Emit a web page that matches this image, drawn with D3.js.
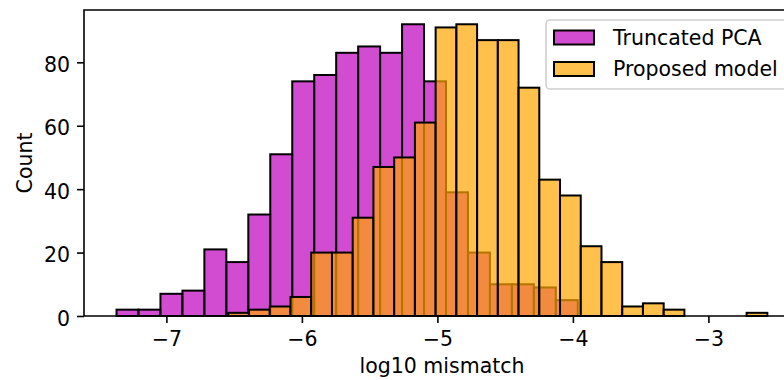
<!DOCTYPE html>
<html>
<head>
<meta charset="utf-8">
<script src="https://cdn.jsdelivr.net/npm/d3@7"></script>
<style>
  body { margin: 0; background: #fff; }
  text { font-family: "DejaVu Sans", sans-serif; fill: #000; }
</style>
</head>
<body>
<div id="chart"></div>
<script>
// Data
const pcaBinStart = -7.368
const pcaBinWidth = 0.1621
const pcaCounts = [2, 2, 7, 8, 21, 17, 32, 51, 74, 76, 83, 85, 83, 92, 74, 39, 20, 10, 10, 9, 5]

const modelBinStart = -6.543
const modelBinWidth = 0.1530
const modelCounts = [1, 2, 3, 6, 20, 20, 31, 47, 50, 61, 91, 92, 87, 87, 72, 43, 38, 22, 17, 3, 4, 2, 0, 0, 0, 1]

const seriesNames = ["Truncated PCA", "Proposed model"]
const xTicks = [-7, -6, -5, -4, -3]
const yTicks = [0, 20, 40, 60, 80]
const xDomain = [-7.608, -2.324]
const yDomain = [0, 96.5]

// Dimensions
const svgWidth = 784
const svgHeight = 380
const plotLeft = 84
const plotRight = 800
const plotTop = 10
const plotBottom = 316
const tickLen = 7
const fontSize = 20.5

const svg = d3.select("#chart")
  .append("svg")
    .attr("width", svgWidth)
    .attr("height", svgHeight)

const x = d3.scaleLinear().domain(xDomain).range([plotLeft, plotRight])
const y = d3.scaleLinear().domain(yDomain).range([plotBottom, plotTop])

function toBins(start, binWidth, counts) {
  return counts.map(function(c, i) {
    return {x0: start + i * binWidth, x1: start + (i + 1) * binWidth, count: c}
  }).filter(function(d) { return d.count > 0 })
}

const series = [
  {name: seriesNames[0], fill: "#bf00bf", bins: toBins(pcaBinStart, pcaBinWidth, pcaCounts)},
  {name: seriesNames[1], fill: "#ffa500", bins: toBins(modelBinStart, modelBinWidth, modelCounts)}
]

series.forEach(function(s) {
  svg.append("g").selectAll("rect")
      .data(s.bins)
      .enter().append("rect")
      .attr("x", function(d) { return x(d.x0) })
      .attr("y", function(d) { return y(d.count) })
      .attr("width", function(d) { return x(d.x1) - x(d.x0) })
      .attr("height", function(d) { return y(0) - y(d.count) })
      .attr("fill", s.fill)
      .attr("fill-opacity", 0.7)
      .attr("stroke", "#000")
      .attr("stroke-width", 2)
})

// Axes
const xAxis = svg.append("g")
    .attr("transform", "translate(0," + plotBottom + ")")
    .call(d3.axisBottom(x).tickValues(xTicks).tickSize(tickLen).tickPadding(7)
      .tickFormat(function(d) { return d < 0 ? "\u2212" + Math.abs(d) : d }))
const yAxis = svg.append("g")
    .attr("transform", "translate(" + plotLeft + ",0)")
    .call(d3.axisLeft(y).tickValues(yTicks).tickSize(tickLen).tickPadding(7))

;[xAxis, yAxis].forEach(function(a) {
  a.select(".domain").remove()
  a.selectAll(".tick line").attr("stroke", "#000").attr("stroke-width", 1.6)
  a.selectAll(".tick text").style("font-size", fontSize + "px").attr("fill", "#000")
})
xAxis.selectAll(".tick text").attr("dy", "0.78em")
yAxis.selectAll(".tick text").attr("dy", "0.45em")

// Spines
svg.append("path")
    .attr("d", "M" + plotRight + "," + plotTop + "H" + plotLeft + "V" + plotBottom + "H" + plotRight)
    .attr("fill", "none")
    .attr("stroke", "#000")
    .attr("stroke-width", 1.6)

// Labels
svg.append("text")
    .attr("x", (plotLeft + plotRight) / 2)
    .attr("y", 373)
    .attr("text-anchor", "middle")
    .style("font-size", fontSize + "px")
    .text("log10 mismatch")

svg.append("text")
    .attr("transform", "translate(31.5," + (plotTop + plotBottom) / 2 + ") rotate(-90)")
    .attr("text-anchor", "middle")
    .style("font-size", fontSize + "px")
    .text("Count")

// Legend
const legend = svg.append("g")
legend.append("rect")
    .attr("x", 546)
    .attr("y", 20)
    .attr("width", 243)
    .attr("height", 69)
    .attr("rx", 4)
    .attr("fill", "#fff")
    .attr("fill-opacity", 0.8)
    .attr("stroke", "#d0d0d0")
    .attr("stroke-width", 1.6)

legend.selectAll(".legend-patch")
    .data(series)
    .enter().append("rect")
    .attr("x", 554)
    .attr("y", function(d, i) { return 30.5 + i * 31.5 })
    .attr("width", 40)
    .attr("height", 14)
    .attr("fill", function(d) { return d.fill })
    .attr("fill-opacity", 0.7)
    .attr("stroke", "#000")
    .attr("stroke-width", 2)

legend.selectAll(".legend-label")
    .data(series)
    .enter().append("text")
    .attr("x", 613)
    .attr("y", function(d, i) { return 44.5 + i * 31.5 })
    .style("font-size", fontSize + "px")
    .text(function(d) { return d.name })
</script>
</body>
</html>
